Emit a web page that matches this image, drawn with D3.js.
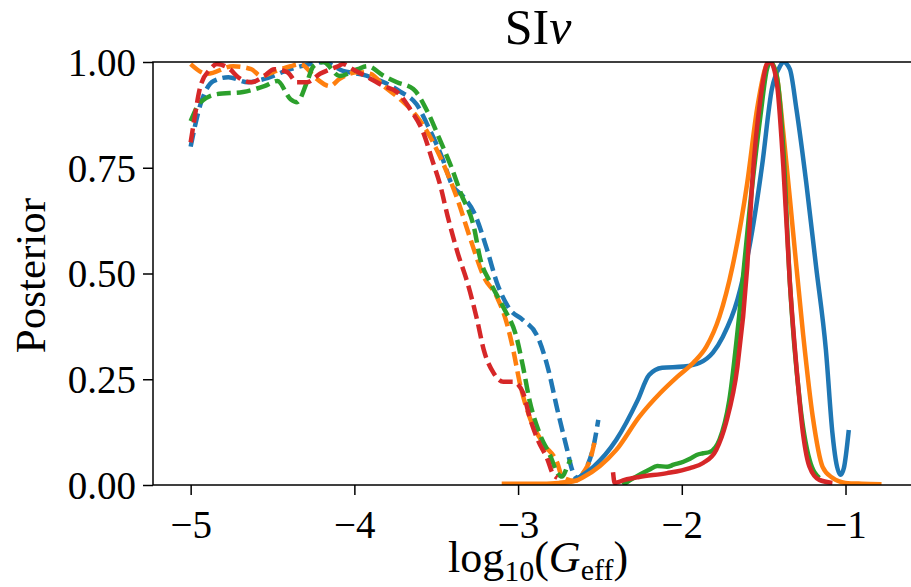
<!DOCTYPE html>
<html>
<head>
<meta charset="utf-8">
<script src="https://cdn.jsdelivr.net/npm/d3@7"></script>
<style>
  body { margin: 0; background: #fff; }
  svg { display: block; }
  text { font-family: "Liberation Serif", "DejaVu Serif", serif; fill: #000; }
</style>
</head>
<body>
<svg width="911" height="587"></svg>
<script>
// series values (x = log10 Geff, y = posterior)
const blueDashX = [-5, -4.94, -4.86, -4.77, -4.65, -4.55, -4.39, -4.27, -4.19, -4.07, -3.95, -3.82, -3.72, -3.62, -3.54, -3.46, -3.41, -3.33, -3.27, -3.19, -3.13, -3.05, -2.97, -2.88, -2.82, -2.76, -2.70, -2.67, -2.64, -2.58, -2.54, -2.51]
const blueDashY = [0.80, 0.90, 0.955, 0.964, 0.952, 0.96, 0.983, 0.995, 1.0, 0.979, 0.97, 0.952, 0.93, 0.90, 0.84, 0.77, 0.715, 0.68, 0.645, 0.557, 0.479, 0.415, 0.39, 0.35, 0.28, 0.178, 0.083, 0.036, 0.017, 0.043, 0.09, 0.154]

const orangeDashX = [-5, -4.90, -4.74, -4.63, -4.57, -4.47, -4.39, -4.33, -4.23, -4.15, -4.09, -3.98, -3.90, -3.82, -3.72, -3.62, -3.54, -3.49, -3.37, -3.29, -3.21, -3.13, -3.07, -3.03, -2.99, -2.93, -2.85, -2.76, -2.73, -2.65, -2.60, -2.56, -2.53]
const orangeDashY = [0.995, 0.972, 0.99, 0.983, 0.967, 0.98, 0.99, 0.995, 0.96, 0.943, 0.96, 0.976, 0.972, 0.943, 0.912, 0.872, 0.825, 0.787, 0.675, 0.58, 0.493, 0.445, 0.384, 0.32, 0.242, 0.161, 0.10, 0.052, 0.019, 0.01, 0.03, 0.06, 0.107]

const greenDashX = [-5, -4.94, -4.84, -4.68, -4.55, -4.47, -4.39, -4.35, -4.29, -4.25, -4.19, -4.09, -3.98, -3.92, -3.82, -3.74, -3.64, -3.55, -3.48, -3.41, -3.35, -3.27, -3.23, -3.17, -3.09, -3.01, -2.97, -2.93, -2.87, -2.80, -2.76, -2.73, -2.70, -2.68]
const greenDashY = [0.86, 0.905, 0.924, 0.929, 0.943, 0.955, 0.912, 0.905, 0.952, 0.99, 1.0, 0.967, 0.983, 0.99, 0.967, 0.952, 0.936, 0.88, 0.818, 0.754, 0.69, 0.61, 0.533, 0.479, 0.42, 0.35, 0.28, 0.2, 0.123, 0.066, 0.028, 0.02, 0.043, 0.06]

const redDashX = [-5, -4.98, -4.94, -4.88, -4.84, -4.76, -4.71, -4.63, -4.55, -4.49, -4.41, -4.35, -4.29, -4.21, -4.10, -4.07, -4.01, -3.90, -3.82, -3.74, -3.66, -3.58, -3.52, -3.48, -3.43, -3.37, -3.31, -3.25, -3.21, -3.15, -3.09, -3.03, -2.97, -2.93, -2.88, -2.82, -2.79, -2.76]
const redDashY = [0.81, 0.858, 0.943, 0.983, 0.995, 0.983, 0.964, 0.952, 0.967, 0.983, 0.976, 0.952, 0.952, 0.972, 0.99, 0.995, 0.983, 0.96, 0.943, 0.929, 0.889, 0.834, 0.763, 0.715, 0.635, 0.55, 0.479, 0.39, 0.32, 0.265, 0.244, 0.244, 0.218, 0.161, 0.107, 0.06, 0.028, 0.017]

const blueSolidX = [-2.66, -2.60, -2.54, -2.40, -2.27, -2.20, -2.12, -1.99, -1.89, -1.81, -1.75, -1.66, -1.59, -1.51, -1.45, -1.40, -1.38, -1.34, -1.30, -1.24, -1.18, -1.12, -1.08, -1.06, -1.03, -1.01, -0.98]
const blueSolidY = [0.01, 0.025, 0.043, 0.107, 0.2, 0.26, 0.277, 0.28, 0.289, 0.313, 0.35, 0.438, 0.557, 0.754, 0.936, 0.99, 1.0, 0.983, 0.889, 0.715, 0.517, 0.32, 0.123, 0.06, 0.024, 0.04, 0.13]

const orangeSolidX = [-3.10, -2.90, -2.75, -2.65, -2.60, -2.50, -2.40, -2.26, -2.13, -2.03, -1.93, -1.85, -1.77, -1.69, -1.60, -1.54, -1.48, -1.46, -1.42, -1.38, -1.32, -1.26, -1.20, -1.14, -1.08, -1.00, -0.90, -0.78]
const orangeSolidY = [0.003, 0.003, 0.005, 0.01, 0.019, 0.045, 0.083, 0.161, 0.218, 0.255, 0.289, 0.327, 0.398, 0.517, 0.715, 0.889, 0.995, 1.0, 0.967, 0.834, 0.597, 0.36, 0.161, 0.043, 0.017, 0.005, 0.003, 0.002]

const greenSolidX = [-2.36, -2.30, -2.20, -2.15, -2.09, -2.05, -1.99, -1.95, -1.91, -1.87, -1.83, -1.77, -1.71, -1.65, -1.59, -1.52, -1.48, -1.46, -1.42, -1.38, -1.34, -1.28, -1.22, -1.16]
const greenSolidY = [0.0, 0.015, 0.036, 0.045, 0.043, 0.048, 0.055, 0.062, 0.071, 0.075, 0.078, 0.107, 0.2, 0.398, 0.635, 0.872, 0.983, 1.0, 0.967, 0.794, 0.479, 0.2, 0.06, 0.017]

const redSolidX = [-2.42, -2.41, -2.35, -2.26, -2.09, -1.95, -1.87, -1.79, -1.73, -1.66, -1.60, -1.57, -1.52, -1.48, -1.46, -1.42, -1.38, -1.34, -1.30, -1.26, -1.22, -1.16, -1.08]
const redSolidY = [0.03, 0.005, 0.012, 0.019, 0.028, 0.04, 0.052, 0.083, 0.147, 0.28, 0.517, 0.715, 0.912, 0.995, 1.0, 0.952, 0.754, 0.479, 0.28, 0.123, 0.043, 0.012, 0.005]

const xTicks = [-5, -4, -3, -2, -1]
const yTicks = [0, 0.25, 0.5, 0.75, 1]

const series = [
  { x: blueDashX, y: blueDashY, color: '#1f77b4', dash: true },
  { x: orangeDashX, y: orangeDashY, color: '#ff7f0e', dash: true },
  { x: greenDashX, y: greenDashY, color: '#2ca02c', dash: true },
  { x: redDashX, y: redDashY, color: '#d62728', dash: true },
  { x: blueSolidX, y: blueSolidY, color: '#1f77b4', dash: false },
  { x: orangeSolidX, y: orangeSolidY, color: '#ff7f0e', dash: false },
  { x: greenSolidX, y: greenSolidY, color: '#2ca02c', dash: false },
  { x: redSolidX, y: redSolidY, color: '#d62728', dash: false }
]

const svg = d3.select('svg')
const plotL = 153, plotR = 911, plotT = 62, plotB = 485
const labelMid = 538  // the figure is cropped on the right, labels centre a bit further right

const x = d3.scaleLinear().domain([-5.23, -0.6]).range([plotL, plotR])
const y = d3.scaleLinear().domain([0, 1]).range([plotB, plotT])

svg.append('clipPath').attr('id', 'plotClip')
  .append('rect')
  .attr('x', plotL).attr('y', plotT)
  .attr('width', plotR - plotL).attr('height', plotB - plotT)

const line = d3.line()
  .x(d => x(d[0]))
  .y(d => y(d[1]))
  .curve(d3.curveMonotoneX)

const linesG = svg.append('g').attr('clip-path', 'url(#plotClip)')

series.forEach(s => {
  linesG.append('path')
    .datum(s.x.map((v, i) => [v, s.y[i]]))
    .attr('d', line)
    .attr('fill', 'none')
    .attr('stroke', s.color)
    .attr('stroke-width', 4.5)
    .attr('stroke-dasharray', s.dash ? '14,6' : null)
    .attr('stroke-linejoin', 'round')
})

// axes
const xAxis = d3.axisBottom(x).tickValues(xTicks).tickSize(10).tickPadding(8)
  .tickFormat(d => '\u2212' + Math.abs(d))
const yAxis = d3.axisLeft(y).tickValues(yTicks).tickSize(10).tickPadding(7)
  .tickFormat(d3.format('.2f'))

const xG = svg.append('g').attr('transform', `translate(0,${plotB})`).call(xAxis)
const yG = svg.append('g').attr('transform', `translate(${plotL},0)`).call(yAxis)

;[xG, yG].forEach(g => {
  g.select('.domain').remove()
  g.selectAll('.tick line').attr('stroke', '#000').attr('stroke-width', 1.5)
  g.selectAll('.tick text')
    .attr('font-size', 39)
    .attr('font-family', '"Liberation Serif", "DejaVu Serif", serif')
    .attr('fill', '#000')
})
yG.selectAll('.tick text').attr('dy', '0.34em')
xG.selectAll('.tick text').attr('dy', '0.9em')

// frame
svg.append('rect')
  .attr('x', plotL).attr('y', plotT)
  .attr('width', plotR - plotL + 4).attr('height', plotB - plotT)
  .attr('fill', 'none')
  .attr('stroke', '#000')
  .attr('stroke-width', 1.5)

// title
const title = svg.append('text')
  .attr('x', labelMid)
  .attr('y', 44)
  .attr('text-anchor', 'middle')
  .attr('font-size', 50)
title.append('tspan').text('SI')
title.append('tspan').attr('font-style', 'italic').text('\u03bd')

// y label
svg.append('text')
  .attr('transform', `translate(45,${(plotT + plotB) / 2 + 2}) rotate(-90)`)
  .attr('text-anchor', 'middle')
  .attr('font-size', 43)
  .text('Posterior')

// x label
const xl = svg.append('text')
  .attr('x', labelMid)
  .attr('y', 572)
  .attr('text-anchor', 'middle')
  .attr('font-size', 44)
xl.append('tspan').text('log')
xl.append('tspan').attr('font-size', 30).attr('dy', 9).text('10')
xl.append('tspan').attr('dy', -9).text('(')
xl.append('tspan').attr('font-style', 'italic').text('G')
xl.append('tspan').attr('font-size', 30).attr('dy', 8).text('eff')
xl.append('tspan').attr('dy', -8).text(')')
</script>
</body>
</html>
